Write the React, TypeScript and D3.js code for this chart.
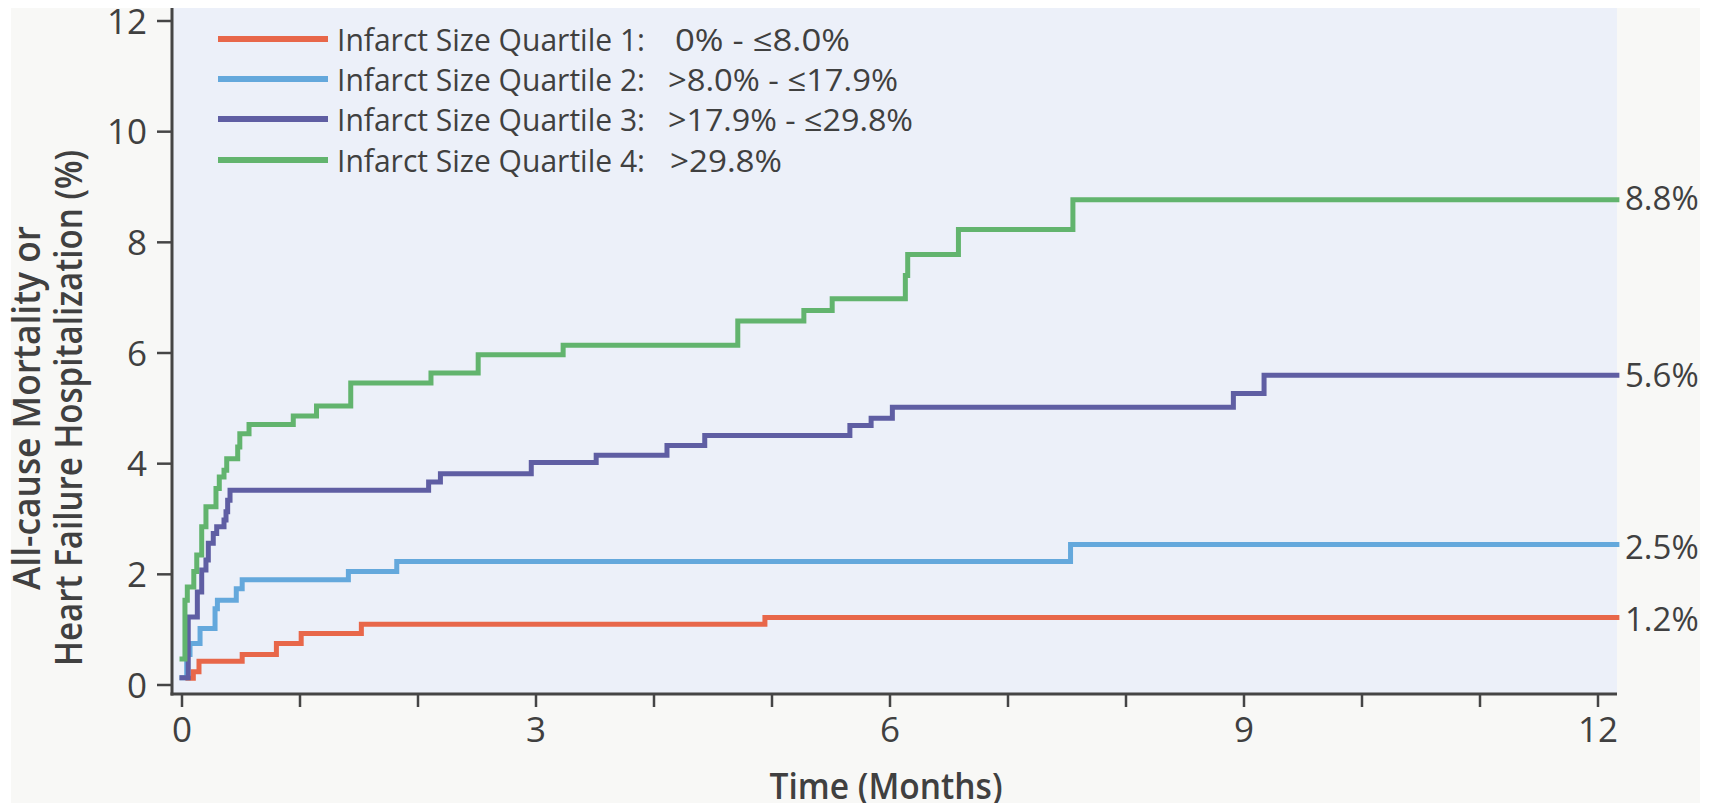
import React from "react";
import * as d3 from "d3";

// ---- data (months, cumulative event %) ----
const q1Time = [0.05, 0.096, 0.144, 0.51, 0.8, 1.01, 1.52, 4.94, 12.16];
const q1Risk = [0.12, 0.24, 0.43, 0.55, 0.75, 0.93, 1.1, 1.22, 1.22];

const q2Time = [0, 0.04, 0.068, 0.153, 0.28, 0.3, 0.46, 0.51, 1.41, 1.82, 7.53, 12.16];
const q2Risk = [0.13, 0.55, 0.75, 1.02, 1.38, 1.53, 1.74, 1.9, 2.05, 2.23, 2.54, 2.54];

const q3Time = [0, 0.053, 0.13, 0.167, 0.203, 0.223, 0.265, 0.294, 0.356, 0.373, 0.387, 0.407, 2.09, 2.19, 2.96, 3.51, 4.11, 4.43, 5.66, 5.84, 6.02, 8.91, 9.17, 12.16];
const q3Risk = [0.13, 1.23, 1.68, 2.08, 2.26, 2.56, 2.74, 2.86, 2.98, 3.13, 3.34, 3.52, 3.67, 3.82, 4.02, 4.15, 4.33, 4.51, 4.69, 4.82, 5.02, 5.27, 5.6, 5.6];

const q4Time = [0, 0.025, 0.045, 0.1, 0.125, 0.167, 0.203, 0.288, 0.316, 0.356, 0.379, 0.472, 0.49, 0.568, 0.943, 1.14, 1.43, 2.11, 2.51, 3.23, 4.71, 5.27, 5.51, 6.13, 6.15, 6.58, 7.55, 12.16];
const q4Risk = [0.47, 1.53, 1.77, 2.05, 2.35, 2.86, 3.22, 3.55, 3.76, 3.88, 4.09, 4.3, 4.54, 4.71, 4.86, 5.04, 5.46, 5.64, 5.97, 6.14, 6.58, 6.77, 6.98, 7.4, 7.78, 8.23, 8.77, 8.77];

const seriesNames = ["Infarct Size Quartile 1:", "Infarct Size Quartile 2:", "Infarct Size Quartile 3:", "Infarct Size Quartile 4:"];
const seriesRanges = ["0% - \u22648.0%", ">8.0% - \u226417.9%", ">17.9% - \u226429.8%", ">29.8%"];
const endLabels = ["1.2%", "2.5%", "5.6%", "8.8%"];
const endValues = [1.2, 2.5, 5.6, 8.8];
const colors = ["#e8674a", "#64a8dc", "#5f5ea3", "#62b46e"];

const yTicks = [0, 2, 4, 6, 8, 10, 12];
const xMinorTicks = d3.range(0, 13);
const xLabelTicks = [0, 3, 6, 9, 12];

const yTitle1 = "All-cause Mortality or";
const yTitle2 = "Heart Failure Hospitalization (%)";
const xTitle = "Time (Months)";

// ---- layout ----
const W = 1713;
const H = 803;
const plotLeft = 172;
const plotRight = 1617;
const plotTop = 8;
const plotBottom = 694;
const textColor = "#404040";
const axisColor = "#454545";
const font = "'Open Sans', 'Noto Sans', sans-serif";

export default function App() {
  const x = d3.scaleLinear().domain([0, 12]).range([182, 1598]);
  const y = d3.scaleLinear().domain([0, 12]).range([685, 21]);

  const series = [
    { t: q1Time, r: q1Risk },
    { t: q2Time, r: q2Risk },
    { t: q3Time, r: q3Risk },
    { t: q4Time, r: q4Risk },
  ];

  const line = d3
    .line<[number, number]>()
    .x((d) => x(d[0]))
    .y((d) => y(d[1]))
    .curve(d3.curveStepAfter);

  const legendY = [39, 79, 119, 160];
  const rangeX = [675, 668, 668, 670];
  const rangeWidths = [175, 230, 245, 112];

  return (
    <svg
      width={W}
      height={H}
      style={{ position: "absolute", left: 0, top: 0, display: "block" }}
      fontFamily={font}
    >
      <rect x={0} y={0} width={W} height={H} fill="#ffffff" />
      <rect x={11} y={8} width={1689} height={795} fill="#f8f8f6" />
      <rect
        x={plotLeft}
        y={plotTop}
        width={plotRight - plotLeft}
        height={plotBottom - plotTop}
        fill="#ecf0f9"
      />

      {/* curves */}
      {series.map((s, i) => (
        <path
          key={i}
          d={line(s.t.map((t, k) => [t, s.r[k]] as [number, number])) || ""}
          fill="none"
          stroke={colors[i]}
          strokeWidth={5}
          strokeLinecap="square"
          strokeLinejoin="miter"
        />
      ))}

      {/* axes */}
      <line x1={plotLeft} x2={plotLeft} y1={plotTop} y2={plotBottom + 1.5} stroke={axisColor} strokeWidth={3} />
      <line x1={plotLeft - 1.5} x2={plotRight} y1={plotBottom} y2={plotBottom} stroke={axisColor} strokeWidth={3} />

      {yTicks.map((v) => (
        <g key={"y" + v}>
          <line x1={157} x2={plotLeft} y1={y(v)} y2={y(v)} stroke={axisColor} strokeWidth={2.5} />
          <text x={147} y={y(v) + 12.5} textAnchor="end" fontSize={35} fill={textColor}>
            {v}
          </text>
        </g>
      ))}

      {xMinorTicks.map((m) => (
        <line key={"xt" + m} x1={x(m)} x2={x(m)} y1={plotBottom} y2={plotBottom + 13} stroke={axisColor} strokeWidth={2.5} />
      ))}
      {xLabelTicks.map((m) => (
        <text key={"xl" + m} x={x(m)} y={742} textAnchor="middle" fontSize={35} fill={textColor}>
          {m}
        </text>
      ))}

      {/* axis titles */}
      <text
        x={886}
        y={799}
        textAnchor="middle"
        fontSize={36}
        fontWeight={600}
        fill={textColor}
        textLength={233}
        lengthAdjust="spacingAndGlyphs"
      >
        {xTitle}
      </text>
      <text
        transform="translate(40,408) rotate(-90)"
        textAnchor="middle"
        fontSize={37}
        fontWeight={600}
        fill={textColor}
        textLength={364}
        lengthAdjust="spacingAndGlyphs"
      >
        {yTitle1}
      </text>
      <text
        transform="translate(82,408) rotate(-90)"
        textAnchor="middle"
        fontSize={37}
        fontWeight={600}
        fill={textColor}
        textLength={516}
        lengthAdjust="spacingAndGlyphs"
      >
        {yTitle2}
      </text>

      {/* legend */}
      {seriesNames.map((name, i) => (
        <g key={"lg" + i}>
          <line x1={218} x2={328} y1={legendY[i]} y2={legendY[i]} stroke={colors[i]} strokeWidth={6} />
          <text
            x={337}
            y={legendY[i] + 11.5}
            fontSize={31}
            fill={textColor}
            textLength={308}
            lengthAdjust="spacingAndGlyphs"
          >
            {name}
          </text>
          <text
            x={rangeX[i]}
            y={legendY[i] + 11.5}
            fontSize={31}
            fill={textColor}
            textLength={rangeWidths[i]}
            lengthAdjust="spacingAndGlyphs"
          >
            {seriesRanges[i]}
          </text>
        </g>
      ))}

      {/* end labels */}
      {endLabels.map((lab, i) => (
        <text key={"el" + i} x={1625} y={y(endValues[i]) + 12} fontSize={33} fill={textColor}>
          {lab}
        </text>
      ))}
    </svg>
  );
}
